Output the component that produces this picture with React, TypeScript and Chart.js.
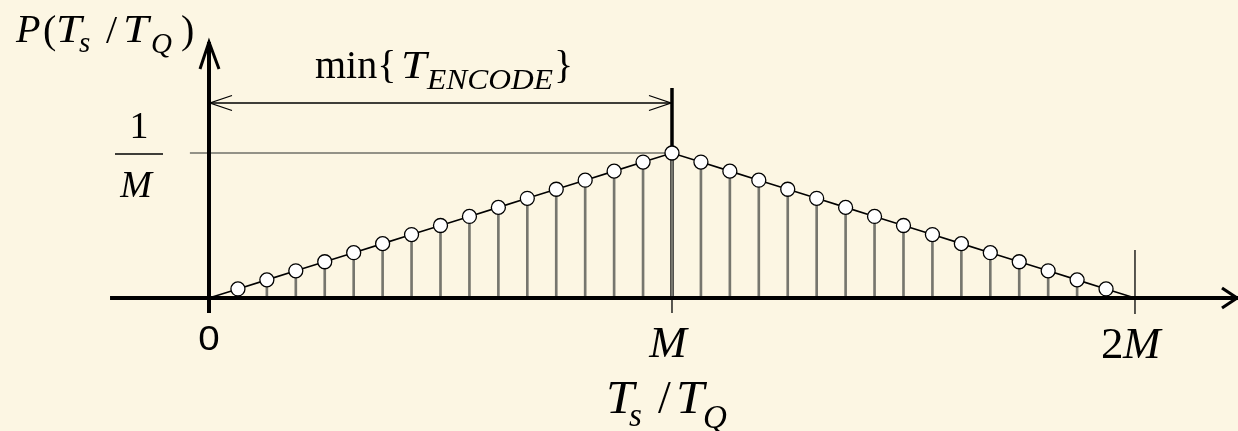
import React, { useEffect, useRef } from "react";
import { Chart, registerables } from "chart.js";

Chart.register(...registerables);

// Quantizer step index k (in units of T_Q) and probability of each step, in units of 1/M^2
const M = 16;
const stepIndex = [1, 2, 3, 4, 5, 6, 7, 8, 9, 10, 11, 12, 13, 14, 15, 16, 17, 18, 19, 20, 21, 22, 23, 24, 25, 26, 27, 28, 29, 30, 31];
const stepProb = [1, 2, 3, 4, 5, 6, 7, 8, 9, 10, 11, 12, 13, 14, 15, 16, 15, 14, 13, 12, 11, 10, 9, 8, 7, 6, 5, 4, 3, 2, 1];
// The envelope starts at 0 and ends at 2M
const edgeX = [0, 32];
const edgeY = [0, 0];
// Axis ticks
const tickValues = [0, 16, 32];
const tickLabels = ["0", "M", "2M"];

const BG = "#FCF6E3";
const SERIF = '"Liberation Serif", "Times New Roman", serif';
const SANS = '"Liberation Sans", Arial, sans-serif';

type Run = { t: string; x: number; y: number; size: number; italic?: boolean; align?: CanvasTextAlign; family?: string; sx?: number };

function drawRuns(ctx: CanvasRenderingContext2D, runs: Run[]) {
  ctx.save();
  ctx.fillStyle = "#000";
  ctx.textBaseline = "alphabetic";
  for (const r of runs) {
    ctx.save();
    ctx.font = `${r.italic ? "italic " : ""}${r.size}px ${r.family || SERIF}`;
    ctx.textAlign = r.align || "left";
    ctx.translate(r.x, r.y);
    ctx.scale(r.sx || 1, 1);
    ctx.fillText(r.t, 0, 0);
    ctx.restore();
  }
  ctx.restore();
}

function line(ctx: CanvasRenderingContext2D, pts: number[][], w: number, color = "#000") {
  ctx.save();
  ctx.strokeStyle = color;
  ctx.lineWidth = w;
  ctx.lineCap = "butt";
  ctx.lineJoin = "miter";
  ctx.beginPath();
  pts.forEach((p, i) => (i === 0 ? ctx.moveTo(p[0], p[1]) : ctx.lineTo(p[0], p[1])));
  ctx.stroke();
  ctx.restore();
}

const diagramPlugin = {
  id: "diagram",
  beforeDraw(chart: any) {
    const { ctx, width, height } = chart;
    ctx.save();
    ctx.fillStyle = BG;
    ctx.fillRect(0, 0, width, height);
    ctx.restore();
  },
  beforeDatasetsDraw(chart: any) {
    const ctx: CanvasRenderingContext2D = chart.ctx;
    const xs = chart.scales.x;
    const ys = chart.scales.y;
    const X = (v: number) => xs.getPixelForValue(v);
    const Y = (v: number) => ys.getPixelForValue(v);
    const x0 = X(0), xM = X(M), x2M = X(2 * M);
    const y0 = Y(0), yPeak = Y(M);

    // 1/M reference level
    line(ctx, [[X(-0.66), yPeak], [xM, yPeak]], 1.5, "#707068");

    // y axis with arrow
    const yTop = 40;
    line(ctx, [[x0, y0 + 15], [x0, yTop + 2]], 4);
    line(ctx, [[x0 - 9, yTop + 29], [x0, yTop + 2], [x0 + 10, yTop + 29]], 3);

    // thick marker at M and its tick below the axis
    line(ctx, [[xM, 88], [xM, y0]], 3.5);
    line(ctx, [[xM, y0], [xM, y0 + 15]], 1.3);

    // thin marker at 2M
    line(ctx, [[x2M, 250], [x2M, y0 + 16]], 1.3);

    // dimension line for min{T_ENCODE}
    const yd = 103;
    line(ctx, [[x0, yd], [xM, yd]], 1.3);
    line(ctx, [[x0 + 23, yd - 7.5], [x0 + 1, yd], [x0 + 23, yd + 7.5]], 1.3);
    line(ctx, [[xM - 23, yd - 7.5], [xM - 1, yd], [xM - 23, yd + 7.5]], 1.3);
  },
  afterDatasetsDraw(chart: any) {
    const ctx: CanvasRenderingContext2D = chart.ctx;
    const xs = chart.scales.x;
    const ys = chart.scales.y;
    const X = (v: number) => xs.getPixelForValue(v);
    const Y = (v: number) => ys.getPixelForValue(v);
    const y0 = Y(0);

    // x axis with arrow
    line(ctx, [[X(-3.42), y0], [chart.width, y0]], 4);
    line(ctx, [[chart.width - 16, y0 - 10], [chart.width - 1, y0], [chart.width - 16, y0 + 10]], 3.2);

    // tick labels
    const tx = tickValues.map(X);
    drawRuns(ctx, [
      { t: tickLabels[0], x: tx[0], y: 350, size: 35, align: "center", family: SANS, sx: 1.1 },
      { t: tickLabels[1], x: tx[1] - 4, y: 357, size: 45, italic: true, align: "center" },
      { t: "2", x: tx[2] - 34, y: 358, size: 45 },
      { t: "M", x: tx[2] - 12, y: 358, size: 45, italic: true },
    ]);

    // x axis title  T_s / T_Q
    drawRuns(ctx, [
      { t: "T", x: 606, y: 413, size: 46, italic: true, sx: 1.1 },
      { t: "s", x: 629, y: 426, size: 33, italic: true },
      { t: "/", x: 658, y: 413, size: 46 },
      { t: "T", x: 676, y: 413, size: 46, italic: true, sx: 1.1 },
      { t: "Q", x: 703, y: 428, size: 33, italic: true },
    ]);

    // y axis title  P(T_s / T_Q)
    drawRuns(ctx, [
      { t: "P", x: 16, y: 42, size: 40, italic: true },
      { t: "(", x: 43, y: 43, size: 40 },
      { t: "T", x: 56, y: 42, size: 40, italic: true, sx: 1.15 },
      { t: "s", x: 79, y: 52, size: 29, italic: true },
      { t: "/", x: 106, y: 43, size: 40 },
      { t: "T", x: 123, y: 42, size: 40, italic: true, sx: 1.15 },
      { t: "Q", x: 151, y: 53, size: 29, italic: true },
      { t: ")", x: 181, y: 43, size: 40 },
    ]);

    // 1/M label
    drawRuns(ctx, [
      { t: "1", x: 139, y: 138, size: 38, align: "center" },
      { t: "M", x: 136, y: 197, size: 38, italic: true, align: "center" },
    ]);
    line(ctx, [[115, 154], [163, 154]], 1.5);

    // min{T_ENCODE}
    drawRuns(ctx, [
      { t: "min{", x: 315, y: 78, size: 40 },
      { t: "T", x: 401, y: 78, size: 40, italic: true, sx: 1.15 },
      { t: "ENCODE", x: 427, y: 89, size: 30, italic: true, sx: 1.05 },
      { t: "}", x: 554, y: 78, size: 40 },
    ]);
  },
};

export default function App() {
  const ref = useRef<HTMLCanvasElement | null>(null);

  useEffect(() => {
    if (!ref.current) return;
    const stems = stepIndex.map((k, i) => ({ x: k, y: stepProb[i] }));
    const envelope = [
      { x: edgeX[0], y: edgeY[0] },
      ...stems,
      { x: edgeX[1], y: edgeY[1] },
    ];
    const last = envelope.length - 1;

    const chart = new Chart(ref.current, {
      type: "bar",
      data: {
        datasets: [
          {
            type: "line",
            data: envelope,
            borderColor: "#000",
            borderWidth: 1.6,
            pointRadius: (c: any) => (c.dataIndex === 0 || c.dataIndex === last ? 0 : 7),
            pointBackgroundColor: "#fff",
            pointBorderColor: "#000",
            pointBorderWidth: 1.3,
            tension: 0,
            order: 1,
          } as any,
          {
            type: "bar",
            data: stems,
            backgroundColor: "#76766e",
            borderWidth: 0,
            barThickness: 2,
            order: 2,
          } as any,
        ],
      },
      options: {
        responsive: false,
        animation: false,
        devicePixelRatio: 1,
        layout: { padding: 0 },
        plugins: { legend: { display: false }, tooltip: { enabled: false } },
        scales: {
          x: { type: "linear", min: -7.2225, max: 35.56, offset: false, display: false },
          y: { type: "linear", min: -14.676, max: 32.883, display: false },
        },
      },
      plugins: [diagramPlugin],
    });
    return () => chart.destroy();
  }, []);

  return (
    <div style={{ position: "fixed", left: 0, top: 0, width: 1238, height: 431, background: BG }}>
      <canvas ref={ref} width={1238} height={431} style={{ display: "block" }} />
    </div>
  );
}
